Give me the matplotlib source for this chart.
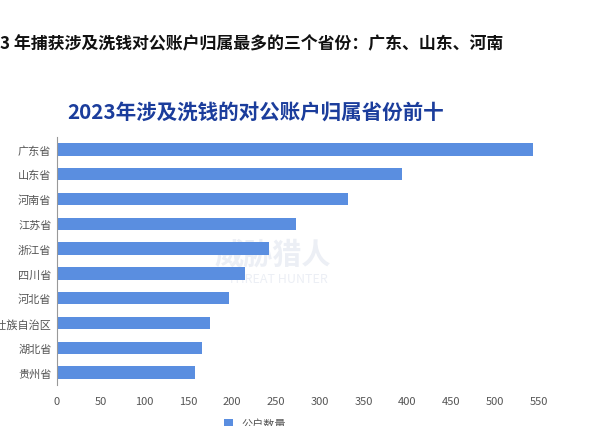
import matplotlib.pyplot as plt

plt.rcParams['font.family'] = ['Noto Sans CJK SC', 'DejaVu Sans']

provinces = ["广东省", "山东省", "河南省", "江苏省", "浙江省",
             "四川省", "河北省", "广西壮族自治区", "湖北省", "贵州省"]
counts = [543, 394, 332, 273, 242, 215, 196, 175, 165, 157]
xticks = [0, 50, 100, 150, 200, 250, 300, 350, 400, 450, 500, 550]

W, H = 591, 427
fig = plt.figure(figsize=(W / 100, H / 100), dpi=100)
fig.patch.set_facecolor('white')

# headline at the top, its beginning cut off by the left edge
fig.text(-30 / W, 1 - 44 / H, "2023 年捕获涉及洗钱对公账户归属最多的三个省份：广东、山东、河南",
         fontsize=12.2, fontweight='bold', color='#111111', va='center', ha='left')

# chart title
fig.text(67 / W, 1 - 112 / H, "2023年涉及洗钱的对公账户归属省份前十",
         fontsize=14.8, fontweight='bold', color='#1b3d9c', va='center', ha='left')

left, right = 57 / W, (57 + 560 * 0.876) / W
bottom, top = 1 - 386 / H, 1 - 138 / H
ax = fig.add_axes([left, bottom, right - left, top - bottom])

# faint watermark
ax.text(0.44, 0.53, "威胁猎人", transform=ax.transAxes, fontsize=21, fontweight='bold',
        color='#eceff5', ha='center', va='center', zorder=0)
ax.text(0.45, 0.43, "THREAT HUNTER", transform=ax.transAxes, fontsize=9,
        color='#eceff5', ha='center', va='center', zorder=0)

bars = ax.barh(range(len(provinces)), counts, height=0.5, color='#5a8ee0', label='公户数量', zorder=2)

ax.set_xlim(0, 560)
ax.set_ylim(len(provinces) - 0.5, -0.5)
ax.set_yticks(range(len(provinces)))
ax.set_yticklabels(provinces)
ax.set_xticks(xticks)

for s in ['top', 'right', 'bottom']:
    ax.spines[s].set_visible(False)
ax.spines['left'].set_color('#999999')
ax.spines['left'].set_linewidth(0.8)
ax.tick_params(axis='both', length=0, labelsize=8, labelcolor='#555555')
ax.tick_params(axis='x', pad=8)
ax.tick_params(axis='y', pad=4)

fig.legend(handles=[bars], labels=['公户数量'], loc='upper left',
           bbox_to_anchor=(216 / W, 1 - 412 / H), frameon=False, fontsize=8,
           handlelength=0.8, handleheight=0.8, borderpad=0.2, labelcolor='#555555')

fig.savefig('out.png', dpi=100, facecolor='white')
